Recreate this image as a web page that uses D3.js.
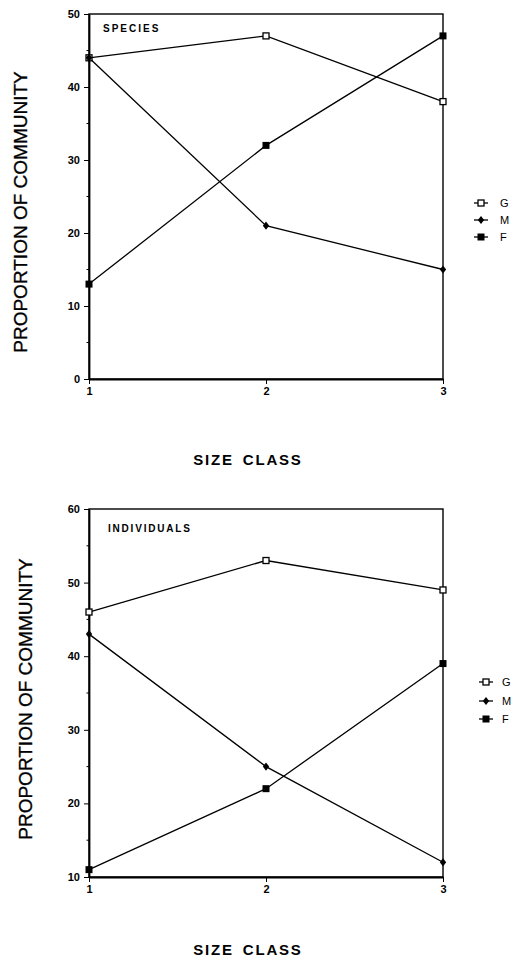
<!DOCTYPE html>
<html><head><meta charset="utf-8">
<script src="https://cdn.jsdelivr.net/npm/d3@7"></script>
<style>body{margin:0;background:#fff}svg{display:block}text{font-family:"Liberation Sans",Arial,sans-serif;fill:#000}</style>
</head><body>
<script>
const sizeClasses = [1, 2, 3];
const seriesNames = ["G", "M", "F"];
const speciesG = [44, 47, 38];
const speciesM = [44, 21, 15];
const speciesF = [13, 32, 47];
const individualsG = [46, 53, 49];
const individualsM = [43, 25, 12];
const individualsF = [11, 22, 39];
const speciesTicks = [0, 10, 20, 30, 40, 50];
const individualsTicks = [10, 20, 30, 40, 50, 60];

const W = 515, H = 960;
const svg = d3.select("body").append("svg").attr("width", W).attr("height", H);

const panels = [
  {title: "SPECIES", series: [speciesG, speciesM, speciesF], ticks: speciesTicks, domain: [0, 50],
   top: 14, bottom: 379, ylab: [20, 212], xlabY: 465, titleX: 103, titleDy: 18, titleLS: 2,
   legend: {x: 474, y: [203, 220, 237], tx: 500}},
  {title: "INDIVIDUALS", series: [individualsG, individualsM, individualsF], ticks: individualsTicks, domain: [10, 60],
   top: 509, bottom: 877, ylab: [25, 699], xlabY: 955, titleX: 108, titleDy: 23, titleLS: 1.8,
   legend: {x: 479, y: [682, 701, 719], tx: 502}}
];

const L = 89, R = 443;
const fontStack = '"Liberation Sans",Arial,sans-serif';

function marker(g, type, x, y) {
  if (type === "G") {
    g.append("rect").attr("x", x - 3).attr("y", y - 3).attr("width", 6).attr("height", 6)
      .attr("fill", "#fff").attr("stroke", "#000").attr("stroke-width", 1.3);
  } else if (type === "M") {
    g.append("path").attr("d", d3.symbol(d3.symbolDiamond, 24)()).attr("transform", `translate(${x},${y}) scale(1.2,0.9)`).attr("fill", "#000");
  } else {
    g.append("rect").attr("x", x - 3.5).attr("y", y - 3.5).attr("width", 7).attr("height", 7).attr("fill", "#000");
  }
}

panels.forEach(p => {
  const x = d3.scaleLinear().domain([1, 3]).range([L, R]);
  const y = d3.scaleLinear().domain(p.domain).range([p.bottom, p.top]);
  const g = svg.append("g");

  g.append("rect").attr("x", L).attr("y", p.top).attr("width", R - L).attr("height", p.bottom - p.top)
    .attr("fill", "none").attr("stroke", "#000").attr("stroke-width", 1.4);

  const yAxis = d3.axisLeft(y).tickValues(p.ticks).tickSize(5).tickSizeOuter(0).tickPadding(4);
  const ya = g.append("g").attr("transform", `translate(${L},0)`).call(yAxis);
  ya.select(".domain").attr("stroke-width", 1.8);
  ya.selectAll("text").style("font-size", "11px").style("font-weight", "bold").style("font-family", fontStack);
  const minor = d3.range(p.domain[0] + 5, p.domain[1], 10);
  g.selectAll(".minor").data(minor).join("line").attr("x1", L - 2.5).attr("x2", L).attr("y1", d => y(d)).attr("y2", d => y(d))
    .attr("stroke", "#000").attr("stroke-width", 1);

  const xAxis = d3.axisBottom(x).tickValues(sizeClasses).tickFormat(d3.format("d")).tickSize(5).tickSizeOuter(0).tickPadding(3);
  const xa = g.append("g").attr("transform", `translate(0,${p.bottom})`).call(xAxis);
  xa.select(".domain").attr("stroke-width", 1.8);
  xa.selectAll("text").style("font-size", "11px").style("font-weight", "bold").style("font-family", fontStack);

  g.append("text").attr("x", p.titleX).attr("y", y(p.domain[1]) + p.titleDy).text(p.title)
    .style("font-size", "10px").style("font-weight", "bold").style("letter-spacing", p.titleLS + "px");

  const line = d3.line().x((d, i) => x(sizeClasses[i])).y(d => y(d));
  p.series.forEach(s => {
    g.append("path").attr("d", line(s)).attr("fill", "none").attr("stroke", "#000").attr("stroke-width", 1.3);
  });
  p.series.forEach((s, k) => {
    s.forEach((v, i) => marker(g, seriesNames[k], x(sizeClasses[i]), y(v)));
  });

  g.append("text").attr("transform", `translate(${p.ylab[0]},${p.ylab[1]}) rotate(-90)`).attr("text-anchor", "middle")
    .attr("dy", "0.35em").style("font-size", "19px").style("stroke", "#000").style("stroke-width", "0.35px")
    .text("PROPORTION OF COMMUNITY");
  g.append("text").attr("x", 248).attr("y", p.xlabY).attr("text-anchor", "middle")
    .style("font-size", "15px").style("font-weight", "bold").style("letter-spacing", "1.8px").style("word-spacing", "3px").text("SIZE CLASS");

  seriesNames.forEach((n, k) => {
    const ly = p.legend.y[k];
    g.append("line").attr("x1", p.legend.x).attr("x2", p.legend.x + 14).attr("y1", ly).attr("y2", ly).attr("stroke", "#000").attr("stroke-width", 1.3);
    marker(g, n, p.legend.x + 7, ly);
    g.append("text").attr("x", p.legend.tx).attr("y", ly).attr("dy", "0.35em").style("font-size", "11px").text(n);
  });
});
</script>
</body></html>
